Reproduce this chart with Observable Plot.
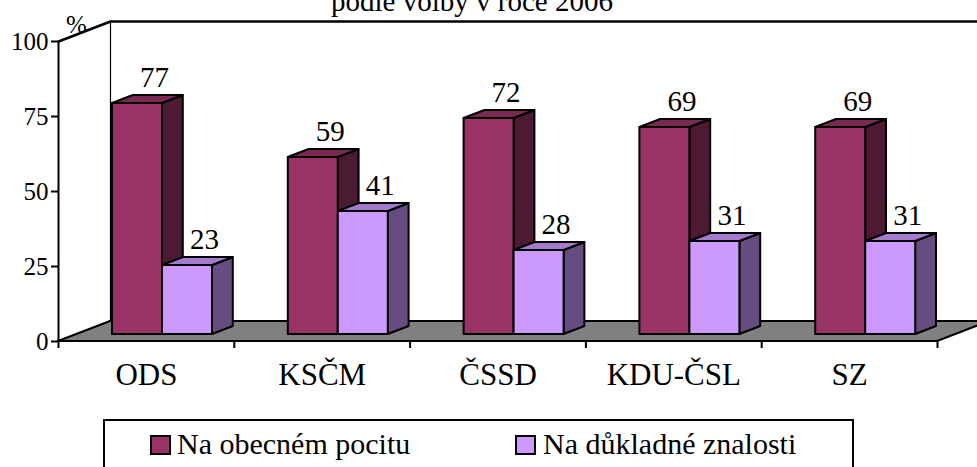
<!DOCTYPE html>
<html>
<head>
<meta charset="utf-8">
<script src="https://cdn.jsdelivr.net/npm/d3@7"></script>
<script src="https://cdn.jsdelivr.net/npm/@observablehq/plot@0.6"></script>
<style>
  html, body { margin: 0; padding: 0; background: #fff; overflow: hidden; }
  #wrap { position: relative; width: 977px; height: 467px; overflow: hidden; font-family: "Liberation Serif", "Times New Roman", Times, "Tinos", "DejaVu Serif", serif; }
  #wrap svg, #wrap svg text { font-family: "Liberation Serif", "Times New Roman", Times, "Tinos", "DejaVu Serif", serif !important; }
  #legend { position: absolute; left: 103px; top: 419px; width: 751px; height: 70px; border: 2px solid #000; box-sizing: border-box; }
  .sw { position: absolute; width: 21px; height: 20px; border: 2px solid #000; box-sizing: border-box; }
  .lt { position: absolute; font-size: 30px; line-height: 30px; white-space: nowrap; color: #000; }
</style>
</head>
<body>
<div id="wrap"></div>
<script>
// ---- data ----
const parties = ["ODS", "KSČM", "ČSSD", "KDU-ČSL", "SZ"];
const obecny = [77, 59, 72, 69, 69];      // Na obecném pocitu
const dukladny = [23, 41, 28, 31, 31];    // Na důkladné znalosti
const yTicks = [0, 25, 50, 75, 100];
const seriesNames = ["Na obecném pocitu", "Na důkladné znalosti"];
const titleText = "podle volby v roce 2006";
const yLabel = "%";

// ---- styling / geometry constants ----
const FONT = '"Liberation Serif", "Times New Roman", Times, "Tinos", "DejaVu Serif", serif';
const frontColors = ["#993366", "#CC99FF"];
const sideColors = ["#4D1A33", "#664C80"];
const topColors = ["#7A2952", "#A37ACC"];
const PXX = (937 - 58) / 5;   // px per category
const PXY = 3;                // px per percent
const DX = 52 / PXX, DY = 20 / PXY;        // full depth in scale units
const GAP = 54 / PXX, BW = 50 / PXX;       // bar offset and width
const B0 = 0.35, B1 = 0.75;                // bar depth range (fraction)
const bdx = (B1 - B0) * DX, bdy = (B1 - B0) * DY;
const base = B0 * DY;

const series = [obecny, dukladny];
const bars = [];
series.forEach((vals, s) => vals.forEach((v, i) => {
  const xl = i + GAP + s * BW;
  bars.push({id: `${s}-${i}`, s, i, v, xl, xr: xl + BW, b: base, t: base + v});
}));
const sideRows = bars.flatMap(d => [
  {id: d.id, s: d.s, x: d.xr, y1: d.b, y2: d.t},
  {id: d.id, s: d.s, x: d.xr + bdx, y1: d.b + bdy, y2: d.t + bdy}
]);
const topRows = bars.flatMap(d => [
  {id: d.id, s: d.s, y: d.t, x1: d.xl, x2: d.xr},
  {id: d.id, s: d.s, y: d.t + bdy, x1: d.xl + bdx, x2: d.xr + bdx}
]);
const floorRows = [{y: 0, x1: 0, x2: parties.length}, {y: DY, x1: DX, x2: parties.length + DX}];
const wallTop = [{x: 0, y: 100}, {x: DX, y: 100 + DY}, {x: parties.length + DX + 1, y: 100 + DY}];
const wallBack = [{x: DX, y: DY}, {x: DX, y: 100 + DY}];

const barMarks = [];
[0, 1].forEach(s => {
  barMarks.push(Plot.areaY(sideRows.filter(d => d.s === s), {x: "x", y1: "y1", y2: "y2", z: "id", fill: sideColors[s], stroke: "#000", strokeWidth: 2, strokeLinejoin: "round"}));
  barMarks.push(Plot.areaX(topRows.filter(d => d.s === s), {y: "y", x1: "x1", x2: "x2", z: "id", fill: topColors[s], stroke: "#000", strokeWidth: 2, strokeLinejoin: "round"}));
  barMarks.push(Plot.rect(bars.filter(d => d.s === s), {x1: "xl", x2: "xr", y1: "b", y2: "t", fill: frontColors[s], stroke: "#000", strokeWidth: 2, strokeLinejoin: "round"}));
});

const chart = Plot.plot({
  width: 977,
  height: 467,
  marginLeft: 58,
  marginRight: 40,
  marginTop: 41,
  marginBottom: 126,
  style: {fontFamily: FONT, background: "#fff", color: "#000"},
  x: {domain: [0, parties.length], axis: null},
  y: {domain: [0, 100], axis: null},
  marks: [
    Plot.line(wallTop, {x: "x", y: "y", stroke: "#000", strokeWidth: 2.5}),
    Plot.line(wallBack, {x: "x", y: "y", stroke: "#000", strokeWidth: 1.2}),
    Plot.areaX(floorRows, {y: "y", x1: "x1", x2: "x2", fill: "#808080", stroke: "#000", strokeWidth: 2}),
    Plot.ruleX([0], {y1: 0, y2: 100, stroke: "#000", strokeWidth: 2}),
    Plot.axisY({ticks: yTicks, tickSize: 7, tickPadding: 3, fontSize: 25, strokeWidth: 2, label: null, tickFormat: d => String(d)}),
    Plot.axisX({ticks: d3.range(parties.length + 1), tickSize: 7, strokeWidth: 2, label: null, tickFormat: () => ""}),
    Plot.text(parties, {x: (d, i) => i + 0.5, y: 0, dy: 43, lineAnchor: "bottom", fontSize: 31, text: d => d}),
    ...barMarks,
    Plot.text(bars, {x: d => (d.xl + d.xr) / 2, y: "t", dx: 17, dy: -17, lineAnchor: "bottom", fontSize: 29, text: d => String(d.v)}),
    Plot.text([yLabel], {x: 0, y: 100, dx: 18, dy: -9, lineAnchor: "bottom", fontSize: 25, text: d => d}),
    Plot.text([titleText], {frameAnchor: "top", dx: -26, dy: -31, lineAnchor: "bottom", fontSize: 29, text: d => d})
  ]
});
const wrap = document.getElementById("wrap");
wrap.appendChild(chart);

// legend (HTML, at the bottom of the chart area)
const legend = document.createElement("div");
legend.id = "legend";
wrap.appendChild(legend);
const swX = [150, 515], txX = [177, 543];
seriesNames.forEach((name, s) => {
  const sw = document.createElement("div");
  sw.className = "sw";
  sw.style.left = (swX[s] - 105) + "px";
  sw.style.top = (435 - 421) + "px";
  sw.style.background = frontColors[s];
  legend.appendChild(sw);
  const tx = document.createElement("div");
  tx.className = "lt";
  tx.style.left = (txX[s] - 105) + "px";
  tx.style.top = (429 - 421) + "px";
  tx.textContent = name;
  legend.appendChild(tx);
});
</script>
</body>
</html>
